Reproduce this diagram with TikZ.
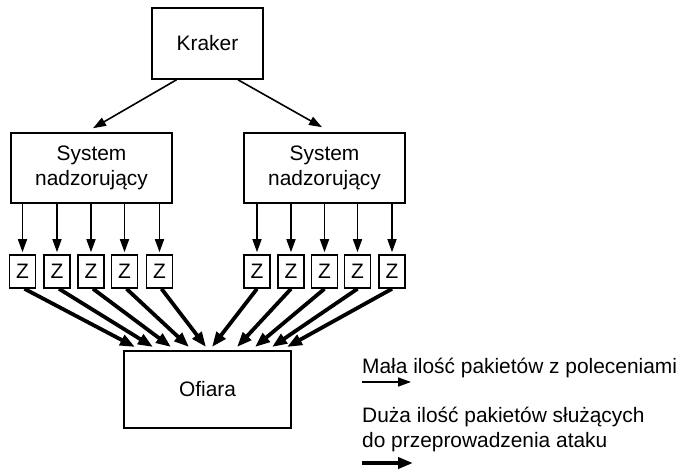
\documentclass[tikz,border=0pt]{standalone}
\usepackage{fontspec}
\setmainfont{Liberation Sans}
\usetikzlibrary{arrows.meta}
\begin{document}
\begin{tikzpicture}[x=1pt,y=-1pt,
  box/.style={draw,line width=1.6pt,inner sep=0pt,align=center,font=\fontsize{20.9}{25.5}\selectfont},
  zbox/.style={draw,line width=1.6pt,inner sep=0pt,minimum width=26pt,minimum height=33pt,font=\fontsize{20.9}{24}\selectfont},
  thinarrow/.style={line width=1.6pt,-{Triangle[length=13pt,width=9pt]}},
  thickarrow/.style={line width=3.8pt,-{Triangle[length=15pt,width=11pt]}},
  legtext/.style={anchor=base west,inner sep=0pt,font=\fontsize{20.9}{24}\selectfont}]
\useasboundingbox (0,0) rectangle (684,468);
\node[box,minimum width=111pt,minimum height=71pt] (kraker) at (207.5,43.5) {Kraker};
\node[box,minimum width=161pt,minimum height=70pt] (sysL) at (91.5,168) {System\\nadzorujący};
\node[box,minimum width=161pt,minimum height=70pt] (sysR) at (324.5,168) {System\\nadzorujący};
\node[box,minimum width=167pt,minimum height=77pt] (ofiara) at (207.5,389.5) {Ofiara};
\foreach \i/\x in {1/22.5,2/57,3/91,4/124.5,5/159.5}{
  \node[zbox] (zl\i) at (\x,271.5) {Z};}
\foreach \i/\x in {1/257,2/291,3/324.5,4/357.5,5/392}{
  \node[zbox] (zr\i) at (\x,271.5) {Z};}
\draw[thinarrow] ([xshift=-31pt]kraker.south) -- ([xshift=1.5pt,yshift=4pt]sysL.north);
\draw[thinarrow] ([xshift=30.5pt]kraker.south) -- ([xshift=-2.5pt,yshift=5pt]sysR.north);
\foreach \i in {1,...,5}{
  \draw[thinarrow,shorten >=2pt] (sysL.south -| zl\i) -- (zl\i.north);
  \draw[thinarrow,shorten >=2pt] (sysR.south -| zr\i) -- (zr\i.north);}
\foreach \i/\x in {1/135,2/153,3/171,4/189,5/206}{
  \coordinate (tl\i) at (\x,347);
  \draw[thickarrow] ([xshift=2pt]zl\i.south) -- (tl\i);}
\foreach \i/\x in {1/212,2/237,3/255,4/272,5/287}{
  \coordinate (tr\i) at (\x,347);
  \draw[thickarrow] (zr\i.south) -- (tr\i);}
\node[legtext] (l1) at (362,373) {Mała ilość pakietów z poleceniami};
\coordinate (a1s) at (362,382);
\coordinate (a1e) at (411,382);
\draw[thinarrow] (a1s) -- (a1e);
\node[legtext] (l2) at (362,422) {Duża ilość pakietów służących};
\node[legtext] (l3) at (362,447) {do przeprowadzenia ataku};
\coordinate (a2s) at (362,463);
\coordinate (a2e) at (413,463);
\draw[thickarrow] (a2s) -- (a2e);
\end{tikzpicture}
\end{document}
